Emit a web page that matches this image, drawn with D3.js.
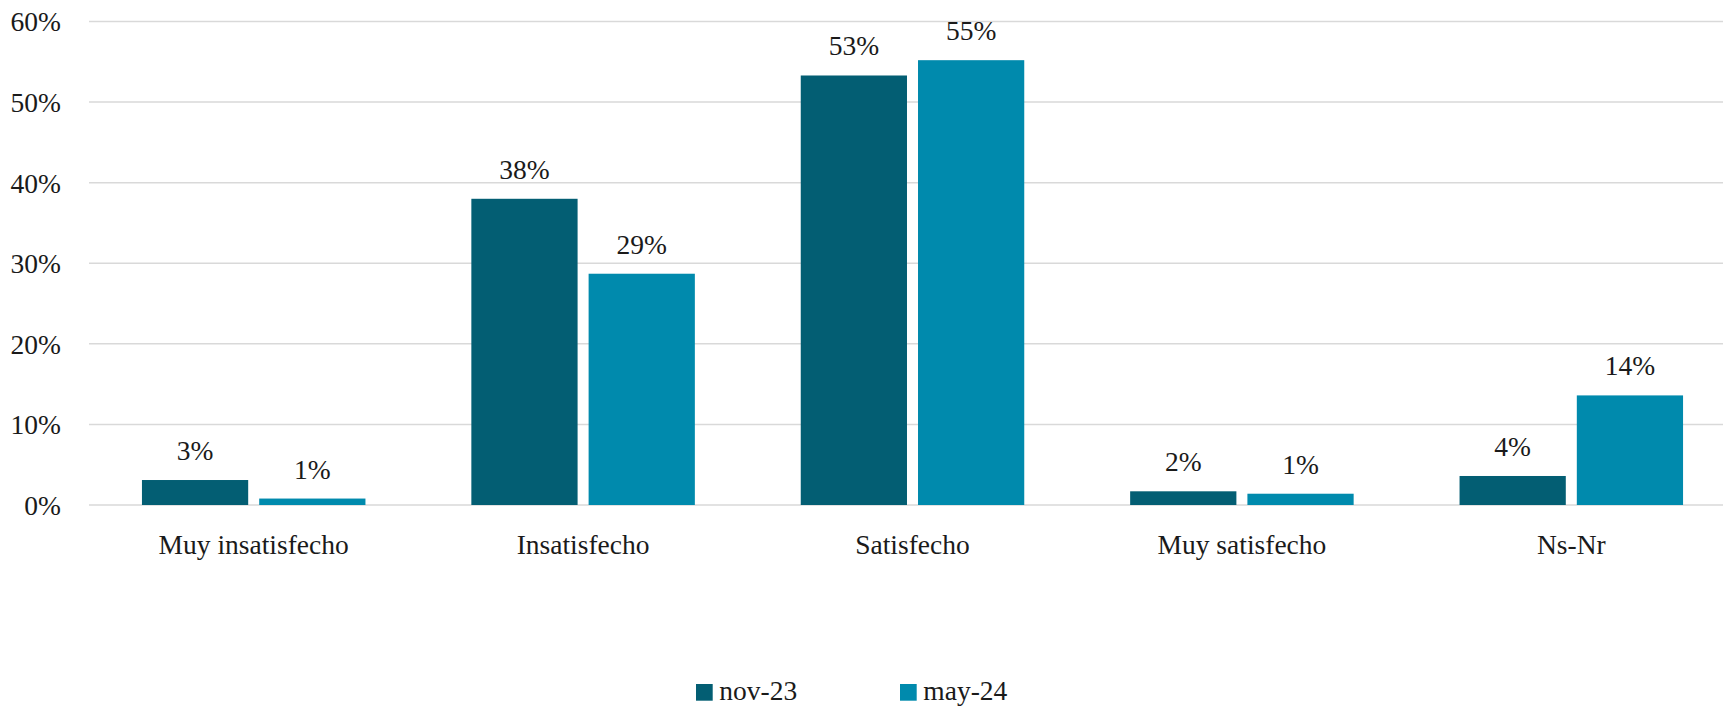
<!DOCTYPE html>
<html>
<head>
<meta charset="utf-8">
<script src="https://cdn.jsdelivr.net/npm/d3@7"></script>
<style>
  html, body { margin: 0; padding: 0; background: #fff; overflow: hidden; }
  svg { display: block; }
  text { font-family: "Liberation Serif", serif; fill: #1a1a1a; }
</style>
</head>
<body>
<svg id="chart" width="1723" height="706"></svg>
<script>
const categories = ["Muy insatisfecho", "Insatisfecho", "Satisfecho", "Muy satisfecho", "Ns-Nr"];
const seriesNames = ["nov-23", "may-24"];
const nov23 = [3.1, 38.0, 53.3, 1.7, 3.6];
const may24 = [0.8, 28.7, 55.2, 1.4, 13.6];
const yTicks = [0, 10, 20, 30, 40, 50, 60];
const colors = ["#035e73", "#008aad"];

const FONT = '"Liberation Serif", serif';
const FS = 27.5;
const W = 1723, H = 706;
const left = 89, bandW = 329.4;
const yTop = 21.5, yBase = 505;
const svg = d3.select("#chart");

const x = d3.scaleBand().domain(categories).range([left, left + bandW * categories.length]).paddingInner(0).paddingOuter(0);
const groupHalf = 111.75;
const xs = d3.scaleBand().domain(seriesNames)
  .range([bandW / 2 - groupHalf, bandW / 2 + groupHalf]).paddingInner(0.094).paddingOuter(0);
const y = d3.scaleLinear().domain([0, 60]).range([yBase, yTop]);

// gridlines
svg.append("g").selectAll("line").data(yTicks).join("line")
  .attr("x1", left).attr("x2", W)
  .attr("y1", d => y(d)).attr("y2", d => y(d))
  .attr("stroke", "#d9d9d9").attr("stroke-width", 1.5);

// y axis labels
const yAxis = d3.axisLeft(y).tickValues(yTicks).tickFormat(d => d + "%").tickSize(0).tickPadding(0);
const yg = svg.append("g").attr("transform", `translate(${61},0)`).call(yAxis)
  .attr("font-family", FONT).attr("font-size", FS);
yg.select(".domain").remove();
yg.selectAll("text").attr("dy", "0.34em").attr("fill", "#1a1a1a");

// bars
const data = categories.map((c, i) => ({ cat: c, vals: [nov23[i], may24[i]] }));
const groups = svg.append("g").selectAll("g").data(data).join("g")
  .attr("transform", d => `translate(${x(d.cat)},0)`);

groups.selectAll("rect").data(d => d.vals.map((v, j) => ({ v, s: seriesNames[j], j }))).join("rect")
  .attr("x", d => xs(d.s))
  .attr("width", xs.bandwidth())
  .attr("y", d => y(d.v))
  .attr("height", d => yBase - y(d.v))
  .attr("fill", d => colors[d.j]);

groups.selectAll("text.val").data(d => d.vals.map((v, j) => ({ v, s: seriesNames[j], j }))).join("text")
  .attr("class", "val")
  .attr("x", d => xs(d.s) + xs.bandwidth() / 2)
  .attr("y", d => y(d.v) - 20)
  .attr("text-anchor", "middle")
  .attr("font-family", FONT)
  .attr("font-size", FS)
  .text(d => Math.round(d.v) + "%");

// x axis labels
const xAxis = d3.axisBottom(x).tickSize(0).tickPadding(0);
const xg = svg.append("g").attr("transform", `translate(0,${yBase})`).call(xAxis)
  .attr("font-family", FONT).attr("font-size", FS);
xg.select(".domain").remove();
xg.selectAll("text").attr("y", 49.3).attr("dy", 0).attr("fill", "#1a1a1a");

// legend
const legendX = [696, 900];
const lg = svg.append("g").selectAll("g").data(seriesNames).join("g")
  .attr("transform", (d, i) => `translate(${legendX[i]},684)`);
lg.append("rect").attr("width", 16.7).attr("height", 16.7).attr("fill", (d, i) => colors[i]);
lg.append("text").attr("x", 23.3).attr("y", 15.5).attr("font-family", FONT).attr("font-size", FS).text(d => d);
</script>
</body>
</html>
